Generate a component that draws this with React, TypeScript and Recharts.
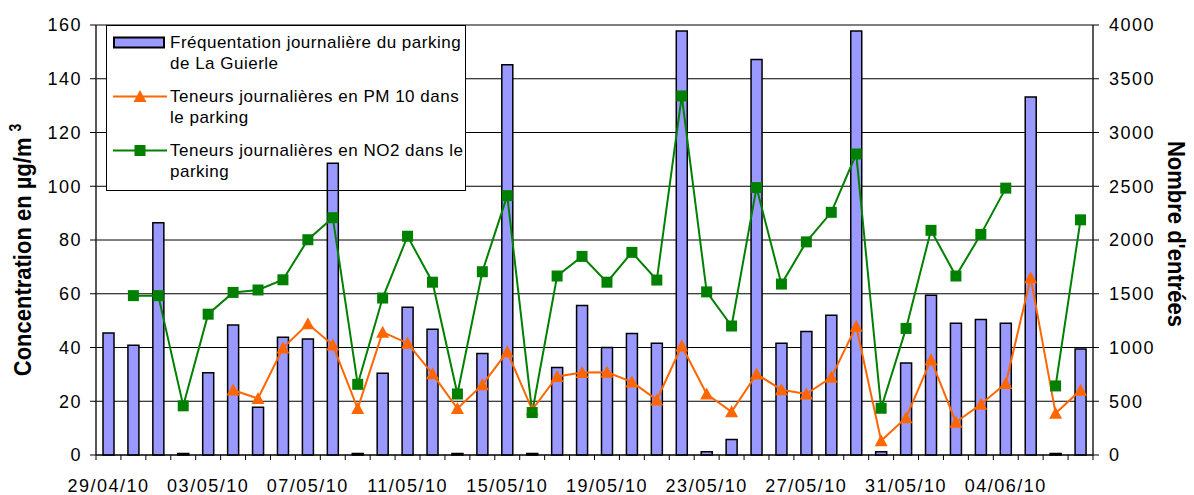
import { ComposedChart, Bar, Line, XAxis, YAxis, CartesianGrid, Legend, ReferenceLine, Label } from 'recharts';

// one category per day, 29/04/10 -> 07/06/10
const dates = [
  '29/04/10', '30/04/10', '01/05/10', '02/05/10', '03/05/10', '04/05/10', '05/05/10', '06/05/10',
  '07/05/10', '08/05/10', '09/05/10', '10/05/10', '11/05/10', '12/05/10', '13/05/10', '14/05/10',
  '15/05/10', '16/05/10', '17/05/10', '18/05/10', '19/05/10', '20/05/10', '21/05/10', '22/05/10',
  '23/05/10', '24/05/10', '25/05/10', '26/05/10', '27/05/10', '28/05/10', '29/05/10', '30/05/10',
  '31/05/10', '01/06/10', '02/06/10', '03/06/10', '04/06/10', '05/06/10', '06/06/10', '07/06/10',
];

// daily car park entries (right axis)
const frequentation = [
  1135, 1020, 2160, 15, 765, 1210, 445, 1095, 1080, 2715,
  15, 760, 1375, 1170, 15, 945, 3630, 15, 815, 1390,
  1000, 1130, 1040, 3945, 30, 145, 3680, 1040, 1150, 1300,
  3945, 30, 855, 1485, 1225, 1260, 1225, 3330, 15, 985,
];

// PM10 daily mean, µg/m3 (left axis)
const pm10 = [
  null, null, null, null, null, 24.2, 21.0, 39.8, 48.8, 40.9,
  17.3, 45.7, 41.6, 30.2, 17.3, 26.1, 38.4, 16.8, 29.2, 30.7,
  30.8, 27.2, 20.5, 40.6, 22.7, 16.1, 30.1, 24.3, 22.7, 28.9,
  47.9, 5.3, 13.9, 35.4, 12.2, 18.9, 26.6, 66.0, 15.5, 24.1,
];

// NO2 daily mean, µg/m3 (left axis)
const no2 = [
  null, 59.3, 59.3, 18.3, 52.4, 60.5, 61.4, 65.2, 80.1, 88.3,
  26.3, 58.4, 81.4, 64.3, 22.7, 68.2, 96.5, 15.8, 66.6, 73.9,
  64.3, 75.4, 65.1, 133.6, 60.7, 48.0, 99.5, 63.6, 79.3, 90.3,
  112.0, 17.4, 47.1, 83.6, 66.6, 82.1, 99.3, null, 25.7, 87.5,
];

const leftTicks = [0, 20, 40, 60, 80, 100, 120, 140, 160];
const rightTicks = [0, 500, 1000, 1500, 2000, 2500, 3000, 3500, 4000];

const W = 1194;
const H = 495;
const LEFT_W = 96;
const RIGHT_W = 101;
const X_H = 40;
const TOP = 25;
const BAND = (W - LEFT_W - RIGHT_W) / dates.length;
const FONT = '"Liberation Sans", Arial, sans-serif';

// legend box (gridlines stop at its edges)
const LEG_LEFT = 106;
const LEG_W = 360;
const LEG_H = 166;

const data = dates.map((d, i) => ({
  date: d,
  entrees: frequentation[i],
  pm10: pm10[i],
  no2: no2[i],
}));

function DateTick({ x, y, index, payload }: any) {
  return (
    <g>
      <line x1={x - BAND / 2} y1={y} x2={x - BAND / 2} y2={y + 5} stroke="#000" />
      {index === dates.length - 1 && (
        <line x1={x + BAND / 2} y1={y} x2={x + BAND / 2} y2={y + 5} stroke="#000" />
      )}
      {index % 4 === 0 && (
        <text x={x} y={y + 37} textAnchor="middle" fontSize={18} letterSpacing={1.5} fontFamily={FONT} fill="#000">
          {payload.value}
        </text>
      )}
    </g>
  );
}

const GridLine = (props: any) => {
  const { x1, y1, x2, y2, index } = props;
  const k = `h${index}-${y1}`;
  if (y1 > TOP + LEG_H || y1 < TOP + 1) {
    return <line key={k} x1={x1} y1={y1} x2={x2} y2={y2} stroke="#000" />;
  }
  return (
    <g key={k}>
      <line x1={x1} y1={y1} x2={LEG_LEFT} y2={y2} stroke="#000" />
      <line x1={LEG_LEFT + LEG_W} y1={y1} x2={x2} y2={y2} stroke="#000" />
    </g>
  );
};

const Triangle = (props: any) => {
  const { cx, cy, index } = props;
  if (cx == null || cy == null) return <g key={`t${index}`} />;
  return (
    <path key={`t${index}`} d={`M${cx},${cy - 6.5} L${cx + 6.5},${cy + 5.5} L${cx - 6.5},${cy + 5.5} Z`} fill="#FF6600" />
  );
};

const Square = (props: any) => {
  const { cx, cy, index } = props;
  if (cx == null || cy == null) return <g key={`s${index}`} />;
  return <rect key={`s${index}`} x={cx - 5.5} y={cy - 5.5} width={11} height={11} fill="#008000" />;
};

const renderLegend = () => {
  const row = { display: 'flex', alignItems: 'flex-start', marginBottom: 12 } as const;
  return (
    <div
      style={{
        width: LEG_W,
        height: LEG_H,
        boxSizing: 'border-box',
        border: '1px solid #000',
        background: 'transparent',
        fontFamily: FONT,
        fontSize: 17,
        lineHeight: '21px',
        letterSpacing: 0.5,
        color: '#000',
        padding: '6px 0 0 6px',
        textAlign: 'left',
      }}
    >
      <div style={row}>
        <svg width={57} height={21}>
          <rect x={1} y={5.5} width={50} height={10} fill="#9999FF" stroke="#000" strokeWidth={2} />
        </svg>
        <span>Fréquentation journalière du parking<br />de La Guierle</span>
      </div>
      <div style={row}>
        <svg width={57} height={21}>
          <line x1={0} y1={10.5} x2={54} y2={10.5} stroke="#FF6600" strokeWidth={2} />
          <path d="M27,4 L33.5,16 L20.5,16 Z" fill="#FF6600" />
        </svg>
        <span>Teneurs journalières en PM 10 dans<br />le parking</span>
      </div>
      <div style={row}>
        <svg width={57} height={21}>
          <line x1={0} y1={10.5} x2={54} y2={10.5} stroke="#008000" strokeWidth={2} />
          <rect x={21.5} y={5} width={11} height={11} fill="#008000" />
        </svg>
        <span>Teneurs journalières en NO2 dans le<br />parking</span>
      </div>
    </div>
  );
};

export default function App() {
  return (
    <div style={{ position: 'absolute', left: 0, top: 0, background: '#fff' }}>
      <ComposedChart
        width={W}
        height={H}
        data={data}
        margin={{ top: TOP, right: 0, bottom: 0, left: 0 }}
        style={{ fontFamily: FONT }}
      >
        <CartesianGrid vertical={false} horizontal={GridLine} yAxisId="left" />
        <XAxis
          dataKey="date"
          height={X_H}
          interval={0}
          tickSize={0}
          tickMargin={0}
          tickLine={false}
          axisLine={{ stroke: '#000' }}
          tick={<DateTick />}
        />
        <YAxis
          yAxisId="left"
          width={LEFT_W}
          domain={[0, 160]}
          ticks={leftTicks}
          interval={0}
          tickSize={6}
          tickMargin={8}
          axisLine={{ stroke: '#222', strokeWidth: 1.5 }}
          tickLine={{ stroke: '#000' }}
          tick={{ fill: '#000', fontSize: 18, letterSpacing: 1.5, fontFamily: FONT }}
        >
          <Label
            content={() => (
              <text
                transform="translate(31 250) scale(1.12 1) rotate(-90)"
                textAnchor="middle"
                fontFamily={FONT}
                fontWeight="bold"
                fontSize={22}
                fill="#000"
              >
                Concentration en µg/m<tspan dx={6} dy={-9} fontSize={14}>3</tspan>
              </text>
            )}
          />
        </YAxis>
        <YAxis
          yAxisId="right"
          orientation="right"
          width={RIGHT_W}
          domain={[0, 4000]}
          ticks={rightTicks}
          interval={0}
          tickSize={6}
          tickMargin={10}
          axisLine={{ stroke: '#222', strokeWidth: 1.5 }}
          tickLine={{ stroke: '#000' }}
          tick={{ fill: '#000', fontSize: 18, letterSpacing: 1.5, fontFamily: FONT }}
        >
          <Label
            content={() => (
              <text
                transform="translate(1168 234) scale(1.12 1) rotate(90)"
                textAnchor="middle"
                fontFamily={FONT}
                fontWeight="bold"
                fontSize={22}
                fill="#000"
              >
                Nombre d'entrées
              </text>
            )}
          />
        </YAxis>
        <ReferenceLine yAxisId="left" y={160} stroke="#808080" strokeWidth={2} />
        <Legend
          layout="vertical"
          align="center"
          verticalAlign="middle"
          content={renderLegend}
          wrapperStyle={{ left: LEG_LEFT, top: TOP, width: LEG_W }}
        />
        <Bar
          yAxisId="right"
          dataKey="entrees"
          barSize={11}
          fill="#9999FF"
          stroke="#000"
          strokeWidth={1.5}
          isAnimationActive={false}
        />
        <Line
          yAxisId="left"
          dataKey="pm10"
          stroke="#FF6600"
          strokeWidth={2}
          dot={Triangle}
          activeDot={false}
          connectNulls={false}
          isAnimationActive={false}
        />
        <Line
          yAxisId="left"
          dataKey="no2"
          stroke="#008000"
          strokeWidth={2}
          dot={Square}
          activeDot={false}
          connectNulls={false}
          isAnimationActive={false}
        />
      </ComposedChart>
    </div>
  );
}
